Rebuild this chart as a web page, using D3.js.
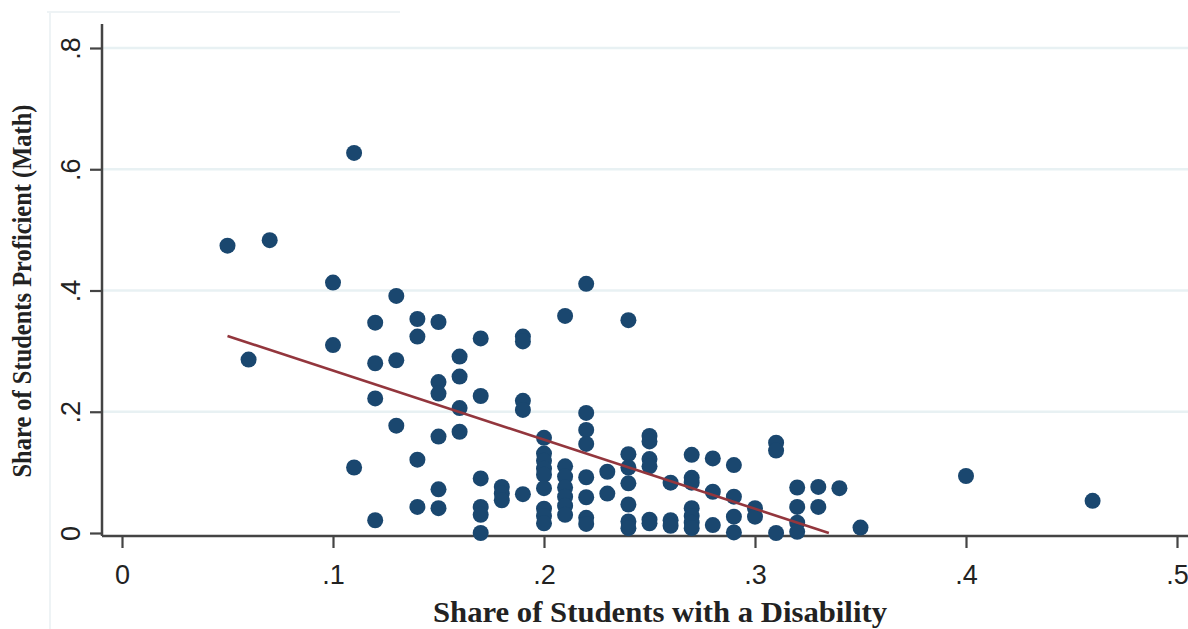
<!DOCTYPE html>
<html>
<head>
<meta charset="utf-8">
<script src="https://cdn.jsdelivr.net/npm/d3@7"></script>
<style>
  html, body { margin: 0; padding: 0; background: #ffffff; }
  svg { display: block; }
</style>
</head>
<body>
<svg id="chart" width="1188" height="629"></svg>
<script>
// ---- data ----
const shareDisability = [
  .05, .06, .07,
  .10, .10,
  .11, .11,
  .12, .12, .12, .12,
  .13, .13, .13,
  .14, .14, .14, .14,
  .15, .15, .15, .15, .15, .15,
  .16, .16, .16, .16,
  .17, .17, .17, .17, .17, .17,
  .18, .18, .18,
  .19, .19, .19, .19, .19,
  .20, .20, .20, .20, .20, .20, .20, .20, .20,
  .21, .21, .21, .21, .21, .21, .21,
  .22, .22, .22, .22, .22, .22, .22, .22,
  .23, .23,
  .24, .24, .24, .24, .24, .24, .24,
  .25, .25, .25, .25, .25, .25,
  .26, .26, .26,
  .27, .27, .27, .27, .27, .27, .27,
  .28, .28, .28,
  .29, .29, .29, .29,
  .30, .30,
  .31, .31, .31,
  .32, .32, .32, .32,
  .33, .33,
  .34, .35, .40, .46
];
const shareProficient = [
  .474, .286, .483,
  .413, .310,
  .627, .108,
  .347, .280, .222, .021,
  .391, .285, .177,
  .353, .324, .121, .043,
  .348, .249, .230, .159, .072, .041,
  .291, .258, .206, .167,
  .321, .226, .090, .043, .030, .000,
  .076, .065, .054,
  .324, .316, .218, .203, .064,
  .157, .131, .119, .106, .096, .074, .040, .028, .016,
  .358, .110, .093, .075, .060, .045, .030,
  .411, .198, .170, .147, .092, .059, .025, .015,
  .101, .065,
  .351, .130, .108, .082, .047, .019, .008,
  .160, .151, .122, .110, .022, .016,
  .083, .021, .012,
  .129, .091, .083, .041, .028, .017, .008,
  .123, .068, .013,
  .112, .060, .027, .001,
  .041, .027,
  .149, .136, .000,
  .075, .043, .017, .002,
  .076, .043,
  .074, .009, .094, .053
];
// fitted line endpoints
const fitX = [0.05, 0.335];
const fitY = [0.325, 0.0];

const xTicks = [0, .1, .2, .3, .4, .5];
const yTicks = [0, .2, .4, .6, .8];
const xTitle = "Share of Students with a Disability";
const yTitle = "Share of Students Proficient (Math)";

// ---- layout ----
const svg = d3.select("#chart");
const x = d3.scaleLinear().domain([0, 0.5]).range([122, 1177]);
const y = d3.scaleLinear().domain([0, 0.8]).range([533, 48]);
const axisX = 102, axisY = 536;
const fmt = d => d === 0 ? "0" : d3.format(".1f")(d).replace(/^0/, "");

// faint scan-frame remnants
svg.append("line").attr("x1", 50).attr("x2", 50).attr("y1", 12).attr("y2", 629)
  .attr("stroke", "#eef3f5").attr("stroke-width", 2);
svg.append("line").attr("x1", 47).attr("x2", 400).attr("y1", 12).attr("y2", 12)
  .attr("stroke", "#eef3f5").attr("stroke-width", 2);

// gridlines
svg.append("g").selectAll("line").data(yTicks.filter(d => d > 0)).join("line")
  .attr("x1", axisX).attr("x2", 1188)
  .attr("y1", d => y(d)).attr("y2", d => y(d))
  .attr("stroke", "#e8f1f3").attr("stroke-width", 2.5);

// y axis
const gy = svg.append("g").attr("transform", `translate(${axisX},0)`)
  .call(d3.axisLeft(y).tickValues(yTicks).tickFormat(fmt).tickSize(12).tickSizeOuter(0));
gy.select(".domain").remove();
gy.selectAll(".tick line").attr("stroke", "#444").attr("stroke-width", 2.2);
gy.selectAll(".tick text")
  .attr("x", 0).attr("dy", 0)
  .attr("transform", "translate(-22,0) rotate(-90)")
  .attr("text-anchor", "middle")
  .style("font-family", "'Liberation Sans', Arial, sans-serif")
  .style("font-size", "27px").attr("fill", "#222");

// x axis
const gx = svg.append("g").attr("transform", `translate(0,${axisY})`)
  .call(d3.axisBottom(x).tickValues(xTicks).tickFormat(fmt).tickSize(12).tickSizeOuter(0));
gx.select(".domain").remove();
gx.selectAll(".tick line").attr("stroke", "#444").attr("stroke-width", 2.2);
gx.selectAll(".tick text")
  .attr("y", 48).attr("dy", 0)
  .style("font-family", "'Liberation Sans', Arial, sans-serif")
  .style("font-size", "27px").attr("fill", "#222");

// axis lines
svg.append("line").attr("x1", axisX).attr("x2", axisX).attr("y1", 24).attr("y2", axisY)
  .attr("stroke", "#444").attr("stroke-width", 2.5);
svg.append("line").attr("x1", axisX).attr("x2", 1188).attr("y1", axisY).attr("y2", axisY)
  .attr("stroke", "#444").attr("stroke-width", 2.5);

// points
svg.append("g").selectAll("circle").data(shareDisability.map((d, i) => [d, shareProficient[i]]))
  .join("circle")
  .attr("cx", d => x(d[0])).attr("cy", d => y(d[1]))
  .attr("r", 8).attr("fill", "#1a476f");

// fit line
svg.append("path")
  .datum(fitX.map((d, i) => [d, fitY[i]]))
  .attr("d", d3.line().x(d => x(d[0])).y(d => y(d[1])))
  .attr("fill", "none").attr("stroke", "#93363d").attr("stroke-width", 2.6);

// titles
svg.append("text").text(xTitle)
  .attr("x", 660).attr("y", 622).attr("text-anchor", "middle")
  .attr("textLength", 454).attr("lengthAdjust", "spacingAndGlyphs")
  .style("font-family", "'Liberation Serif', 'Times New Roman', serif")
  .style("font-weight", "bold").style("font-size", "30px").attr("fill", "#222");
svg.append("text").text(yTitle)
  .attr("transform", "translate(31,291) rotate(-90)").attr("text-anchor", "middle")
  .attr("textLength", 373).attr("lengthAdjust", "spacingAndGlyphs")
  .style("font-family", "'Liberation Serif', 'Times New Roman', serif")
  .style("font-weight", "bold").style("font-size", "28px").attr("fill", "#222");
</script>
</body>
</html>
